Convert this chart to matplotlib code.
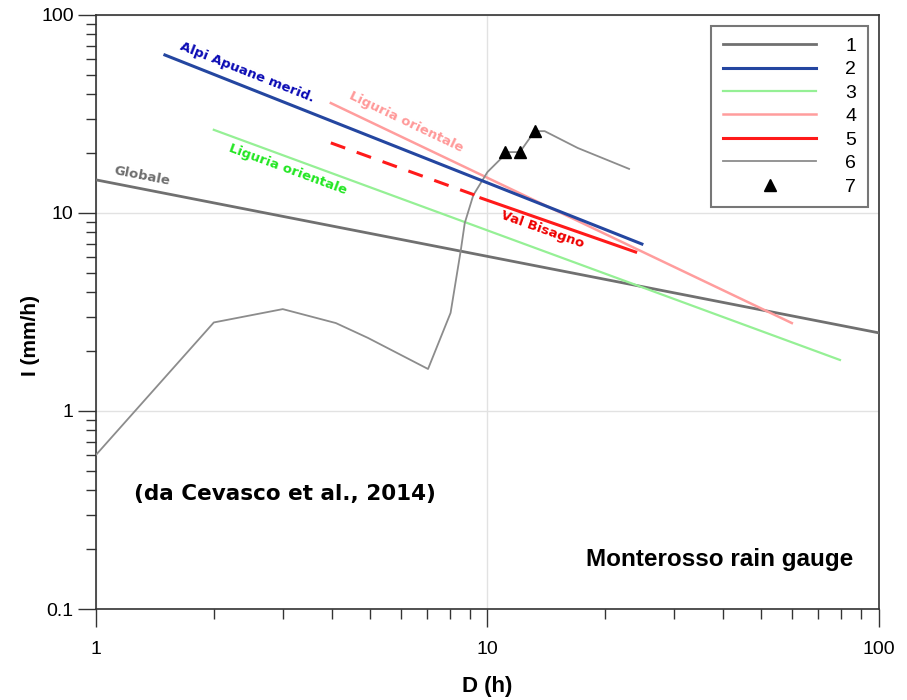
import numpy as np
import matplotlib
matplotlib.use("Agg")
import matplotlib.pyplot as plt
from matplotlib.ticker import FuncFormatter, LogLocator

# ── Thresholds I = a D^-b (end points) ───────────────────────────────────────
glob_d = [1.0, 100.0]            # 1  Globale
glob_i = [14.7, 2.48]
apuane_d = [1.5, 24.8]           # 2  Alpi Apuane merid.
apuane_i = [62.8, 6.97]
lig3_d = [2.0, 79.5]             # 3  Liguria orientale (green)
lig3_i = [26.3, 1.81]
lig4_d = [3.98, 59.9]            # 4  Liguria orientale (pink)
lig4_i = [35.9, 2.78]
bisagno_dash_d = [3.98, 9.3]     # 5  Val Bisagno (extrapolated part)
bisagno_dash_i = [22.6, 12.3]
bisagno_d = [9.62, 23.9]         # 5  Val Bisagno
bisagno_i = [11.9, 6.35]

# 6  Monterosso rain gauge, cumulative event curve
gauge_d = [1.0, 2.0, 3.0, 4.1, 4.95, 7.05, 8.05, 8.55, 8.75, 9.2, 10.0,
           10.85, 11.1, 12.1, 13.2, 14.0, 17.0, 23.0]
gauge_i = [0.6, 2.8, 3.27, 2.78, 2.34, 1.63, 3.13, 6.5, 8.9, 12.3, 16.1,
           18.9, 20.3, 20.3, 25.9, 25.9, 21.3, 16.7]

# 7  landslide triggering points
trig_d = [11.1, 12.1, 13.2]
trig_i = [20.3, 20.3, 25.9]

legend_labels = ["1", "2", "3", "4", "5", "6", "7"]

# ── Figure ────────────────────────────────────────────────────────────────────
fig = plt.figure(figsize=(9.07, 7.0), dpi=100)
ax = fig.add_axes([0.1058, 0.13, 0.8633, 0.8486])
ax.set_xscale("log")
ax.set_yscale("log")
ax.set_xlim(1, 100)
ax.set_ylim(0.1, 100)

ax.grid(True, which="major", color="#e2e2e2", linewidth=1.0, zorder=0)

h1, = ax.plot(glob_d, glob_i, color="#707070", lw=2.0, zorder=3)
h2, = ax.plot(apuane_d, apuane_i, color="#2446a0", lw=2.2, zorder=4)
h3, = ax.plot(lig3_d, lig3_i, color="#95f095", lw=1.6, zorder=3)
h4, = ax.plot(lig4_d, lig4_i, color="#ff9d9d", lw=1.8, zorder=3)
h5, = ax.plot(bisagno_d, bisagno_i, color="#ff1a1a", lw=2.2, zorder=4)
ax.plot(bisagno_dash_d, bisagno_dash_i, color="#ff1a1a", lw=2.2,
        dashes=(5, 4), zorder=4)
h6, = ax.plot(gauge_d, gauge_i, color="#8c8c8c", lw=1.3, zorder=3)
h7, = ax.plot(trig_d, trig_i, ls="none", marker="^", ms=8,
              color="black", zorder=5)

# ── Curve labels ──────────────────────────────────────────────────────────────
lab_kw = dict(fontsize=9.5, fontweight="bold", family="DejaVu Sans",
              ha="center", va="center", rotation_mode="anchor", zorder=6)
ax.text(2.43, 51.5, "Alpi Apuane merid.", color="#0a0ab4", rotation=-21.6, **lab_kw)
ax.text(6.2, 28.8, "Liguria orientale", color="#ff9999", rotation=-25.5, **lab_kw)
ax.text(3.09, 16.5, "Liguria orientale", color="#22e622", rotation=-20.2, **lab_kw)
ax.text(1.31, 15.4, "Globale", color="#6e6e6e", rotation=-11, **lab_kw)
ax.text(13.8, 8.2, "Val Bisagno", color="#ee0000", rotation=-19.7, **lab_kw)

ax.text(0.241, 0.194, "(da Cevasco et al., 2014)", transform=ax.transAxes,
        fontsize=15.5, fontweight="bold", family="DejaVu Sans",
        ha="center", va="center")
ax.text(0.797, 0.084, "Monterosso rain gauge", transform=ax.transAxes,
        fontsize=17.5, fontweight="bold", family="Liberation Sans",
        ha="center", va="center")

# ── Axes styling ──────────────────────────────────────────────────────────────
fmt = FuncFormatter(lambda v, _: f"{v:g}")
ax.xaxis.set_major_formatter(fmt)
ax.yaxis.set_major_formatter(fmt)
ax.xaxis.set_minor_locator(LogLocator(base=10, subs=np.arange(2, 10)))
ax.yaxis.set_minor_locator(LogLocator(base=10, subs=np.arange(2, 10)))
ax.xaxis.set_minor_formatter(plt.NullFormatter())
ax.yaxis.set_minor_formatter(plt.NullFormatter())

ax.tick_params(axis="both", which="major", direction="out", length=13,
               width=1.0, color="#333333", labelsize=14)
ax.tick_params(axis="both", which="minor", direction="out", length=7,
               width=1.0, color="#333333")
ax.tick_params(axis="x", which="major", pad=10)
ax.tick_params(axis="y", which="major", pad=3)
for lab in ax.get_xticklabels() + ax.get_yticklabels():
    lab.set_family("Liberation Sans")

for s in ax.spines.values():
    s.set_color("#333333")
    s.set_linewidth(1.2)

ax.set_xlabel("D (h)", fontsize=16, fontweight="bold", family="Liberation Sans")
ax.set_ylabel("I (mm/h)", fontsize=15, fontweight="bold", family="Liberation Sans")
ax.xaxis.set_label_coords(0.5, -0.13)
ax.yaxis.set_label_coords(-0.084, 0.461)
ax.xaxis.label.set_va("center")
ax.yaxis.label.set_va("center")

leg = ax.legend([h1, h2, h3, h4, h5, h6, h7], legend_labels,
                loc="upper right", bbox_to_anchor=(0.986, 0.982),
                borderaxespad=0, fancybox=False, framealpha=1,
                edgecolor="#777777", handlelength=4.8,
                handletextpad=1.5, labelspacing=0.3, borderpad=0.6,
                prop={"family": "Liberation Sans", "size": 14})
leg.get_frame().set_linewidth(1.5)
leg.set_zorder(10)

fig.savefig("out.png", dpi=100, facecolor="white")
